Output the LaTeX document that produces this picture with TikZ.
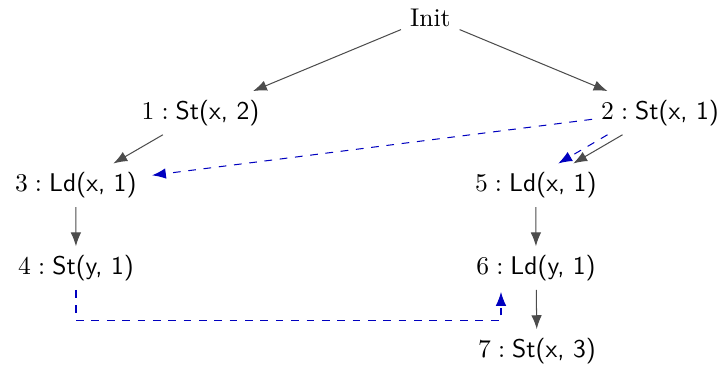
\documentclass[tikz,border=0pt]{standalone}
\usetikzlibrary{arrows.meta,calc}
\begin{document}
\begin{tikzpicture}[x=0.390625pt, y=-0.390625pt,
  op/.style={inner sep=3.33pt, anchor=base},
  po/.style={color=black!70, -{Latex[length=5.4pt,width=4.1pt]}},
  dep/.style={color=blue!75!black, dashed, -{Latex[length=5.4pt,width=4.1pt]}}]
\useasboundingbox (0,0) rectangle (723,365);

% events
\node[op] (init) at (430.3,26)  {Init};
\node[op] (n1) at (200.5,119.3) {$1 : \textsf{St(x, 2)}$};
\node[op] (n2) at (660,119.3)   {$2 : \textsf{St(x, 1)}$};
\node[op] (n3) at (75.8,191.7)  {$3 : \textsf{Ld(x, 1)}$};
\node[op] (n5) at (535.8,191.7) {$5 : \textsf{Ld(x, 1)}$};
\node[op] (n4) at (76,274.5)    {$4 : \textsf{St(y, 1)}$};
\node[op] (n6) at (536,274.5)   {$6 : \textsf{Ld(y, 1)}$};
\node[op] (n7) at (537,357.3)   {$7 : \textsf{St(x, 3)}$};

% program order
\draw[po] (init) -- (n1);
\draw[po] (init) -- (n2);
\draw[po] (n1) -- (n3);
\draw[po] (n2) -- (n5);
\draw[po] (n3) -- (n4);
\draw[po] (n5) -- (n6);
\draw[po] (n6) -- (n7);

% reads-from edges
\draw[dep] (n2.base west) -- ($(n3.east)+(6.5,-10)$);
\draw[dep, transform canvas={xshift=-5.86pt}] (n2) -- (n5);
\draw[dep] (n4.south) -- ++(0,30.6) -| ($(n6.south)+(-35,2)$);
\end{tikzpicture}
\end{document}
